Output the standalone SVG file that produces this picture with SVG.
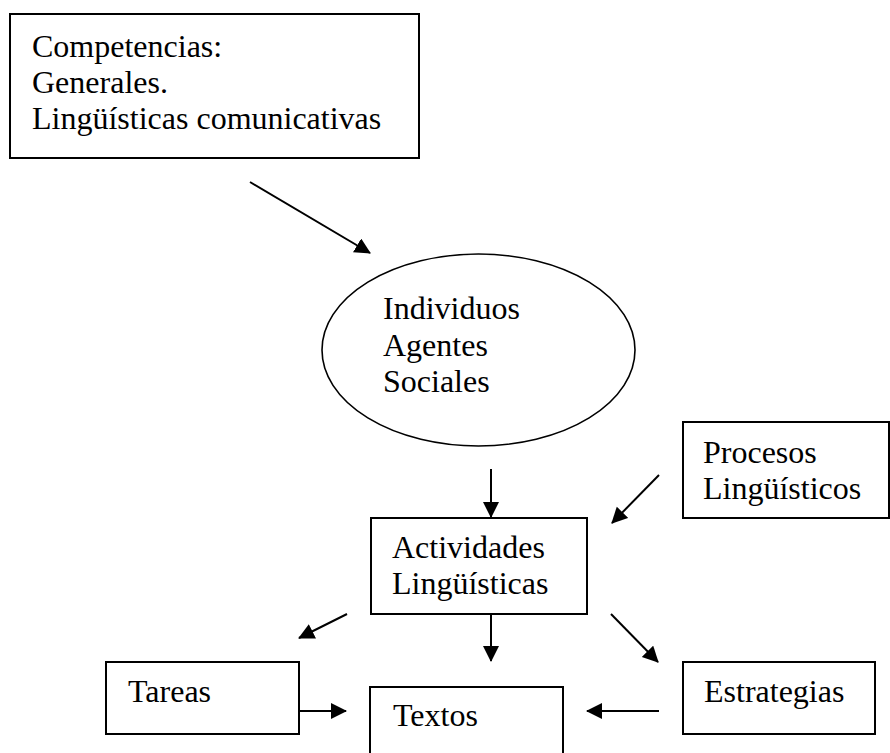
<svg xmlns="http://www.w3.org/2000/svg" width="890" height="753" viewBox="0 0 890 753">
<style>
.box{fill:#fff;stroke:#000;stroke-width:2}
.ell{fill:#fff;stroke:#000;stroke-width:1.6}
.t{font-family:"Liberation Serif","Times New Roman",serif;font-size:32px;fill:#000}
.c{stroke:#000;stroke-width:2;fill:none;marker-end:url(#ah)}
</style>
<defs>
<marker id="ah" markerUnits="userSpaceOnUse" markerWidth="18" markerHeight="18" refX="15" refY="8" orient="auto">
<path d="M0,0 L16,8 L0,16 z" fill="#000"/>
</marker>
</defs>
<rect width="890" height="753" fill="#fff"/>
<g id="competencias">
<rect class="box" x="10" y="14" width="409" height="144"/>
<text class="t" x="32" y="57">Competencias:</text>
<text class="t" x="32" y="93">Generales.</text>
<text class="t" x="32" y="129">Lingüísticas comunicativas</text>
</g>
<g id="individuos">
<ellipse class="ell" cx="478.5" cy="350" rx="156.5" ry="96"/>
<text class="t" x="383" y="319">Individuos</text>
<text class="t" x="383" y="356">Agentes</text>
<text class="t" x="383" y="392">Sociales</text>
</g>
<g id="procesos">
<rect class="box" x="683" y="422" width="206" height="96"/>
<text class="t" x="703" y="463">Procesos</text>
<text class="t" x="703" y="499">Lingüísticos</text>
</g>
<g id="actividades">
<rect class="box" x="371" y="518" width="216" height="96"/>
<text class="t" x="392" y="558">Actividades</text>
<text class="t" x="392" y="594">Lingüísticas</text>
</g>
<g id="tareas">
<rect class="box" x="106" y="662" width="193" height="72"/>
<text class="t" x="128" y="702">Tareas</text>
</g>
<g id="textos">
<rect class="box" x="370" y="687" width="193" height="80"/>
<text class="t" x="393" y="726">Textos</text>
</g>
<g id="estrategias">
<rect class="box" x="683" y="662" width="192" height="72"/>
<text class="t" x="704" y="702">Estrategias</text>
</g>
<g id="connectors">
<line class="c" x1="250" y1="182" x2="370" y2="253"/>
<line class="c" x1="491" y1="469" x2="491" y2="517"/>
<line class="c" x1="659" y1="475" x2="612" y2="523"/>
<line class="c" x1="347" y1="614" x2="299" y2="638"/>
<line class="c" x1="491" y1="614" x2="491" y2="661"/>
<line class="c" x1="611" y1="614" x2="658" y2="662"/>
<line class="c" x1="299" y1="711" x2="346" y2="711"/>
<line class="c" x1="659" y1="711" x2="587" y2="711"/>
</g>
</svg>
